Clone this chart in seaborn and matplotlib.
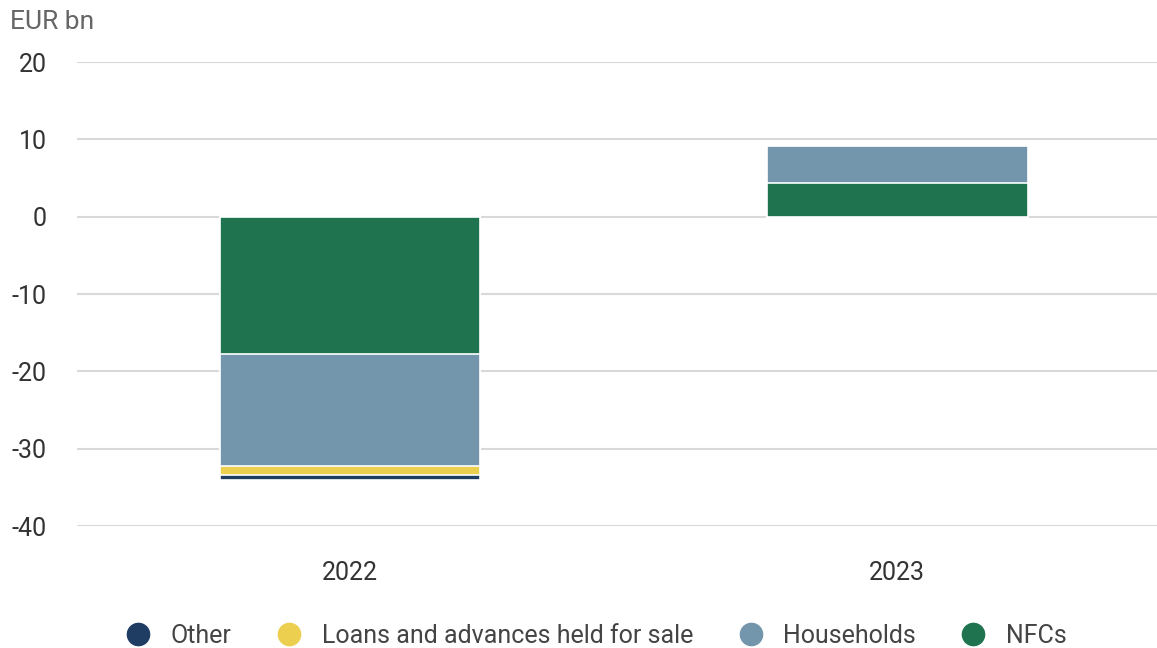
import matplotlib
matplotlib.use("Agg")
import matplotlib.pyplot as plt
from matplotlib.lines import Line2D
import seaborn as sns
import pandas as pd
import numpy as np

years = ["2022", "2023"]
series = ["Other", "Loans and advances held for sale", "Households", "NFCs"]
nfcs = [-17.8, 4.3]
households = [-14.4, 4.9]
loans = [-1.2, 0.0]
other = [-0.6, 0.0]
colors = ["#1f3c63", "#eccf4e", "#7396ad", "#1f744f"]

sns.set_theme(style="white")
plt.rcParams["font.family"] = ["Roboto", "DejaVu Sans"]
plt.rcParams["axes.unicode_minus"] = False

fig = plt.figure(figsize=(11.57, 6.48), dpi=100)
ax = fig.add_axes([77 / 1157, 1 - 526 / 648, 1 - 77 / 1157, (526 - 62) / 648])

# stack from zero outward: NFCs, Households, Loans, Other
stack_order = [nfcs, households, loans, other]
cum = np.cumsum(np.array(stack_order), axis=0)
stack_colors = [colors[3], colors[2], colors[1], colors[0]]

# draw outermost totals first so inner segments sit on top
for vals, col in zip(cum[::-1], stack_colors[::-1]):
    df = pd.DataFrame({"year": years, "value": vals})
    sns.barplot(data=df, x="year", y="value", color=col, width=0.477, saturation=1,
                edgecolor="white", linewidth=1.2, ax=ax, zorder=3)

ax.set_xlim(-0.499, 1.475)
ax.set_ylim(-40, 20)
ax.set_yticks(range(-40, 21, 10))
ax.yaxis.grid(True, color="#d9d9d9", linewidth=1.5, zorder=0)
ax.xaxis.grid(False)
for sp in ax.spines.values():
    sp.set_visible(False)
ax.set_xlabel("")
ax.set_ylabel("")
ax.tick_params(axis="y", length=0, pad=22, labelsize=18, labelcolor="#333333")
ax.tick_params(axis="x", length=0, pad=25, labelsize=18, labelcolor="#333333")

fig.text(10 / 1157, 1 - 22 / 648, "EUR bn", fontsize=19, color="#666666",
         ha="left", va="center")

handles = [Line2D([], [], marker="o", linestyle="", markersize=16,
                  markerfacecolor=c, markeredgecolor=c) for c in colors]
fig.legend(handles, series, loc="center", bbox_to_anchor=(590 / 1157, 1 - 636 / 648),
           ncol=4, frameon=False, fontsize=18, handletextpad=0.3, columnspacing=1.3,
           labelcolor="#444444")

fig.savefig("out.png", dpi=100)
